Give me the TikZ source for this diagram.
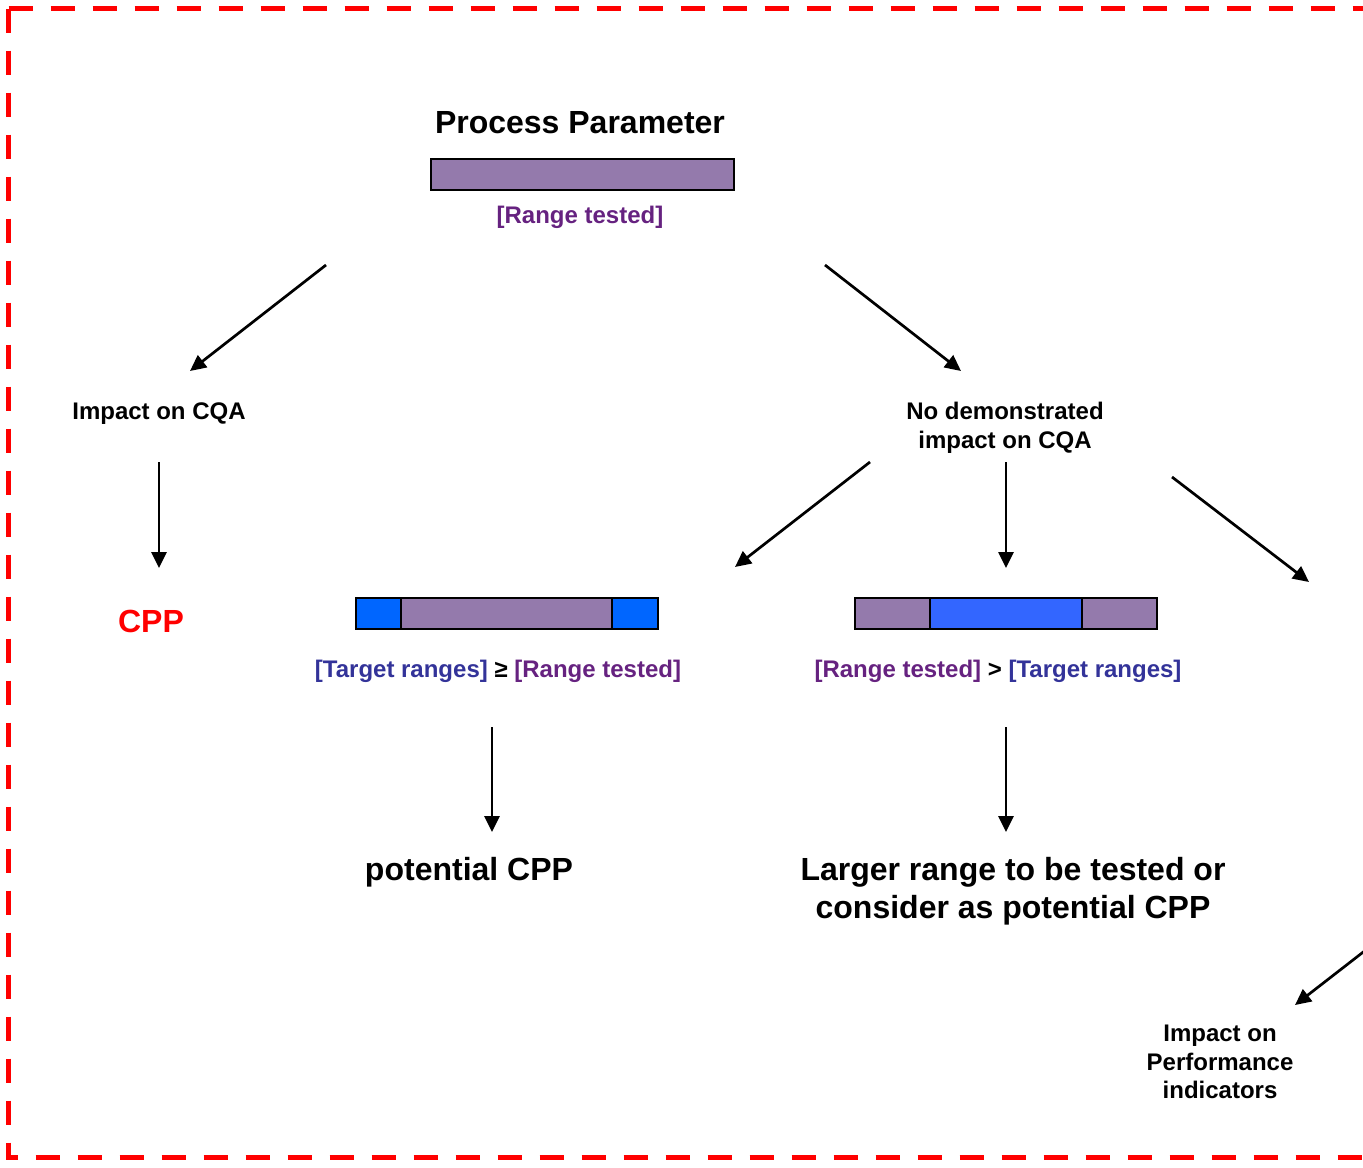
\documentclass[tikz,border=0pt]{standalone}
\usepackage{fontspec}
\setmainfont{Liberation Sans}
\usetikzlibrary{arrows.meta}
\definecolor{ppred}{RGB}{255,0,0}
\definecolor{rngfill}{RGB}{148,122,172}
\definecolor{rngtext}{RGB}{102,34,128}
\definecolor{tgttext}{RGB}{51,51,153}
\definecolor{tgtblue}{RGB}{0,102,255}
\definecolor{tgtblueb}{RGB}{51,102,255}

\begin{document}
\begin{tikzpicture}[
  x=0.5pt, y=-0.5pt,
  lbl/.style={font=\fontsize{12}{14.4}\selectfont\bfseries, align=center, inner sep=0pt},
  big/.style={font=\fontsize{16}{19}\selectfont\bfseries, align=center, inner sep=0pt},
  seg/.style={draw=black, line width=1pt, inner sep=0pt, minimum height=15.5pt},
  arr/.style={-{Triangle[length=8pt,width=7.5pt]}, line width=1.35pt},
  frame/.style={draw=ppred, line width=2.5pt, dash pattern=on 12pt off 9pt},
]
\useasboundingbox (0,0) rectangle (1363,1167);
% dashed frame, runs off the right edge
\coordinate (tl) at (8.5,8.5);
\coordinate (tr) at (1400,8.5);
\coordinate (bl) at (8.5,1157.5);
\coordinate (br) at (1400,1157.5);
\draw[frame] (tl) -- (tr);
\draw[frame] (tl) -- (bl) -- (br);

% process parameter
\node[big] (pp) at (580,123) {Process Parameter};
\node[seg, fill=rngfill, minimum width=151.5pt] (ppbar) at (582.5,174.5) {};
\node[lbl, text=rngtext] (pprng) at (580,217) {[Range tested]};

% left branch
\node[lbl] (cqa) at (159,414) {Impact on CQA};
\node[big, text=ppred] (cpp) at (151,621) {CPP};

% right branch
\node[lbl] (nocqa) at (1005,428) {No demonstrated\\ impact on CQA};

% target ranges wider than range tested
\node[seg, fill=tgtblue, minimum width=22.5pt] (ta) at (378.5,613.5) {};
\node[seg, fill=rngfill, minimum width=105.5pt] (tb) at (506.5,613.5) {};
\node[seg, fill=tgtblue, minimum width=23pt] (tc) at (635,613.5) {};
\node[lbl] (tgtlbl) at (498,671) {\textcolor{tgttext}{[Target ranges]} ≥ \textcolor{rngtext}{[Range tested]}};
\node[big] (pcpp) at (469,872) {potential CPP};

% range tested wider than target ranges
\node[seg, fill=rngfill, minimum width=37.5pt] (ra) at (892.5,613.5) {};
\node[seg, fill=tgtblueb, minimum width=76pt] (rb) at (1006,613.5) {};
\node[seg, fill=rngfill, minimum width=37.5pt] (rc) at (1119.5,613.5) {};
\node[lbl] (rnglbl) at (998,671) {\textcolor{rngtext}{[Range tested]} > \textcolor{tgttext}{[Target ranges]}};
\node[big] (larger) at (1013,891) {Larger range to be tested or\\consider as potential CPP};

\node[lbl] (perf) at (1220,1062) {Impact on\\Performance\\indicators};

% arrow ends
\coordinate (a1s) at (326,265);   \coordinate (a1e) at (190,371);
\coordinate (a2s) at (825,265);   \coordinate (a2e) at (961,371);
\coordinate (a3s) at (159,462);   \coordinate (a3e) at (159,568);
\coordinate (a4s) at (870,462);   \coordinate (a4e) at (735,567);
\coordinate (a5s) at (1006,462);  \coordinate (a5e) at (1006,568);
\coordinate (a6s) at (1172,477);  \coordinate (a6e) at (1309,582);
\coordinate (a7s) at (492,727);   \coordinate (a7e) at (492,832);
\coordinate (a8s) at (1006,727);  \coordinate (a8e) at (1006,832);
\coordinate (a9s) at (1380,939);  \coordinate (a9e) at (1295,1005);

\draw[arr] (a1s) -- (a1e);
\draw[arr] (a2s) -- (a2e);
\draw[arr] (a3s) -- (a3e);
\draw[arr] (a4s) -- (a4e);
\draw[arr] (a5s) -- (a5e);
\draw[arr] (a6s) -- (a6e);
\draw[arr] (a7s) -- (a7e);
\draw[arr] (a8s) -- (a8e);
\draw[arr] (a9s) -- (a9e);
\end{tikzpicture}
\end{document}
